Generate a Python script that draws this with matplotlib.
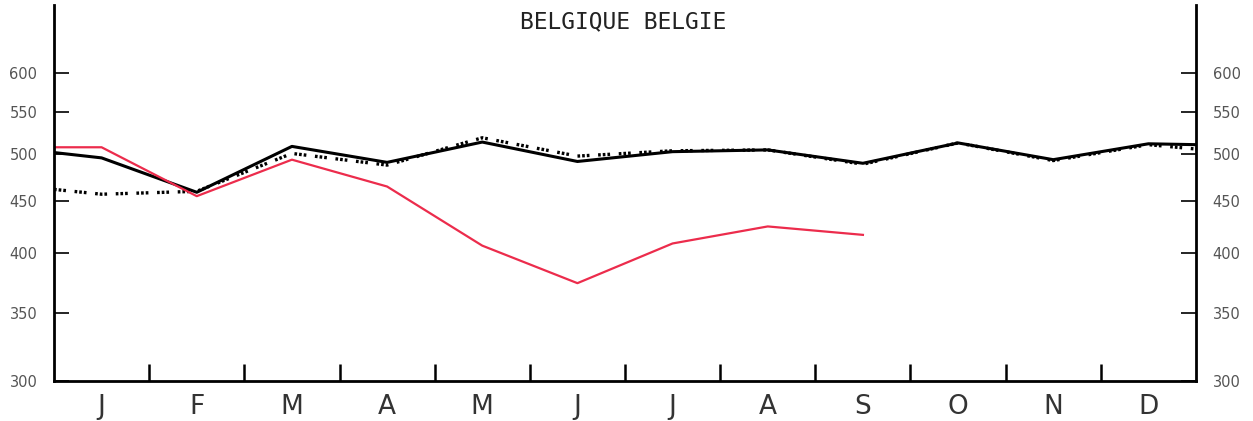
import numpy as np
import matplotlib.pyplot as plt
from matplotlib.ticker import NullLocator, FixedLocator

# Meses (etiquetas del eje x)
months = ["J", "F", "M", "A", "M", "J", "J", "A", "S", "O", "N", "D"]

# Posiciones: borde izquierdo, centros de los meses, borde derecho
x_full = [0] + [i + 0.5 for i in range(12)] + [12]
x_red = [0] + [i + 0.5 for i in range(9)]

# Serie negra continua
black_vals = [502, 496, 459, 509, 491, 514, 492, 503, 505, 490, 513, 494, 512, 511]
# Serie negra punteada
dotted_vals = [462, 457, 460, 501, 488, 519, 498, 504, 505, 489, 513, 493, 511, 506]
# Serie roja (hasta septiembre)
red_vals = [508, 508, 455, 494, 465, 407, 374, 409, 425, 417]

y_ticks = [300, 350, 400, 450, 500, 550, 600]

fig = plt.figure(figsize=(12.53, 4.21), dpi=100)
ax = fig.add_axes([54 / 1253, 1 - 381 / 421, (1196 - 54) / 1253, (381 - 5) / 421])

ax.plot(x_full, dotted_vals, color="black", linewidth=2.4,
        dashes=(0.8, 0.6, 0.8, 0.6, 0.8, 2.6), solid_capstyle="butt")
ax.plot(x_full, black_vals, color="black", linewidth=2.2)
ax.plot(x_red, red_vals, color="#ec2c4c", linewidth=1.6)

ax.set_yscale("log")
ax.set_ylim(300, 700)
ax.set_xlim(0, 12)

ax.yaxis.set_major_locator(FixedLocator(y_ticks))
ax.yaxis.set_minor_locator(NullLocator())
ax.set_yticklabels([str(v) for v in y_ticks])
ax.tick_params(axis="y", which="major", direction="in", left=True, right=True,
               labelleft=True, labelright=True, length=11, width=1.2,
               pad=12, labelsize=10.5, labelcolor="#555555")

ax.set_xticks(np.arange(1, 12))
ax.set_xticklabels([])
ax.set_xticks(np.arange(12) + 0.5, minor=True)
ax.set_xticklabels(months, minor=True)
ax.tick_params(axis="x", which="major", direction="in", length=12, width=1.8)
ax.tick_params(axis="x", which="minor", length=0, pad=9, labelsize=19,
               labelcolor="#333333")

ax.spines["top"].set_visible(False)
for side in ["left", "right", "bottom"]:
    ax.spines[side].set_linewidth(2)
    ax.spines[side].set_color("black")

fig.text(0.497, 1 - 22 / 421, "BELGIQUE BELGIE", ha="center", va="center",
         fontsize=16.5, family="DejaVu Sans Mono", color="#222222")

fig.savefig("out.png", dpi=100)
